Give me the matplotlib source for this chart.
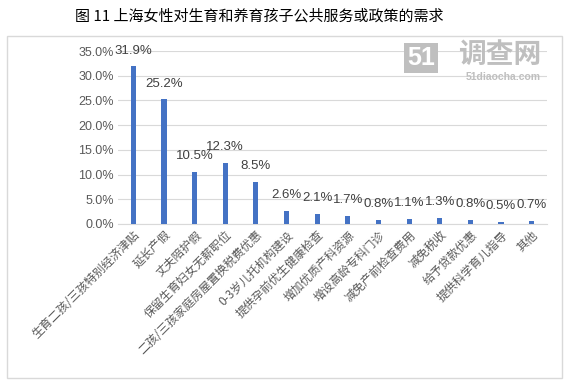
import matplotlib.pyplot as plt
from matplotlib.patches import Rectangle

plt.rcParams['font.family'] = ['Liberation Sans', 'Noto Sans CJK SC', 'DejaVu Sans']

# data
categories = ["生育二孩/三孩特别经济津贴", "延长产假", "丈夫陪护假", "保留生育妇女无薪职位",
              "二孩/三孩家庭房屋置换税费优惠", "0-3岁儿托机构建设", "提供孕前优生健康检查",
              "增加优质产科资源", "增设高龄专科门诊", "减免产前检查费用", "减免税收",
              "给予贷款优惠", "提供科学育儿指导", "其他"]
values = [31.9, 25.2, 10.5, 12.3, 8.5, 2.6, 2.1, 1.7, 0.8, 1.1, 1.3, 0.8, 0.5, 0.7]
yticks = [0, 5, 10, 15, 20, 25, 30, 35]

fig = plt.figure(figsize=(5.73, 3.82), dpi=100)
fig.patch.set_facecolor('white')

# outer chart frame
fig.patches.append(Rectangle((7/573, 1 - 378/382), 555/573, 342/382, transform=fig.transFigure,
                             fill=False, edgecolor='#d9d9d9', linewidth=1))

fig.text(259/573, 1 - 16/382, "图 11 上海女性对生育和养育孩子公共服务或政策的需求",
         ha='center', va='center', fontsize=10.8, color='black',
         family=['Noto Sans CJK SC', 'DejaVu Sans'])

ax = fig.add_axes([118/573, 1 - 224/382, 429/573, 173/382])
x = list(range(len(categories)))
ax.bar(x, values, width=0.17, color='#4472C4', zorder=3)
for xi, v in zip(x, values):
    ax.text(xi, min(v + 3.2, 35), f"{v:.1f}%", ha='center', va='center',
            fontsize=9.5, color='#404040')

ax.set_xlim(-0.5, len(categories) - 0.5)
ax.set_ylim(0, 35)
ax.set_yticks(yticks)
ax.set_yticklabels([f"{t:.1f}%" for t in yticks], fontsize=9, color='#595959')
ax.yaxis.grid(True, color='#d9d9d9', linewidth=0.8, zorder=0)
ax.set_xticks(x)
ax.set_xticklabels(categories, rotation=45, ha='right', rotation_mode='anchor',
                   fontsize=8.5, color='#595959', family=['Noto Sans CJK SC', 'DejaVu Sans'])
ax.tick_params(axis='both', length=0, pad=3)
for s in ['top', 'right', 'left']:
    ax.spines[s].set_visible(False)
ax.spines['bottom'].set_color('#d9d9d9')

# watermark
fig.text(421/573, 1 - 58/382, "51", ha='center', va='center', fontsize=18,
         color='white', fontweight='bold',
         bbox=dict(boxstyle='square,pad=0.12', facecolor='#bfbfbf', edgecolor='none'))
fig.text(500/573, 1 - 55/382, "调查网", ha='center', va='center', fontsize=20,
         color='#bfbfbf', fontweight='bold', family=['Noto Sans CJK SC'])
fig.text(503/573, 1 - 77/382, "51diaocha.com", ha='center', va='center', fontsize=7.5,
         color='#bfbfbf', fontweight='bold')

fig.savefig('out.png', dpi=100)
